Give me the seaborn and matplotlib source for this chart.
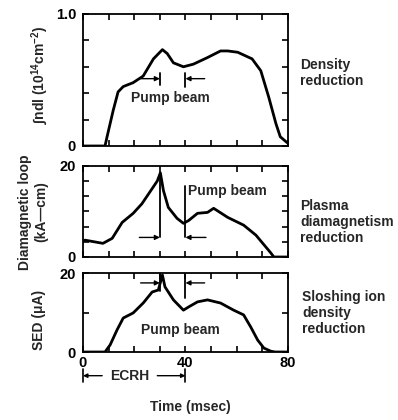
import numpy as np
import pandas as pd
import matplotlib
matplotlib.use("Agg")
import matplotlib.pyplot as plt
import seaborn as sns
from matplotlib.transforms import blended_transform_factory

# ---------------- data ----------------
t_density = [0, 8.6, 9.4, 11.8, 13.7, 15.7, 19.6, 23.5, 27.5, 31, 32.9, 35.3, 39.2,
             43.1, 48.6, 53.7, 56.5, 60.4, 66, 69.4, 72.5, 75.3, 77, 80]
density = [0, 0, 0.07, 0.27, 0.41, 0.45, 0.48, 0.53, 0.66, 0.73, 0.70, 0.63, 0.60,
           0.62, 0.67, 0.72, 0.72, 0.71, 0.66, 0.57, 0.37, 0.17, 0.07, 0.02]

t_diamag = [0, 0.8, 7.8, 11.4, 15.3, 19.6, 23, 29, 30.2, 31.4, 33.3, 36.7, 39.2,
            41.2, 44.7, 48.6, 51, 56.5, 62.7, 67.5, 73.3, 74.5, 80]
diamag = [3.5, 3.7, 3.0, 4.1, 7.6, 9.6, 11.7, 16.7, 18.5, 14.6, 10.9, 8.5, 7.4,
          8.0, 9.6, 9.8, 10.7, 8.7, 7.0, 4.8, 0.9, 0, 0]

t_sed = [0, 8.6, 10.6, 13.3, 15.7, 19.6, 23.5, 27, 29.4, 31, 32, 35.3, 39.2,
         41.2, 44.7, 48.6, 53.7, 58.8, 62.7, 65.5, 68.2, 70.6, 73.3, 75, 80]
sed = [0, 0, 1.8, 5.6, 8.6, 9.9, 12.4, 15.2, 15.7, 19.5, 16.5, 13.2, 10.6,
       11.4, 12.7, 13.2, 12.4, 10.6, 9.4, 6.3, 3.0, 1.0, 0.2, 0, 0]

pump_beam = [30, 40]      # msec
ecrh = [0, 40]            # msec
x_ticklabels = ["0", "40", "80"]

# ---------------- style ----------------
sns.set_theme(style="ticks")
plt.rcParams['font.family'] = ['Liberation Sans', 'DejaVu Sans']
plt.rcParams['font.weight'] = 'bold'
plt.rcParams['mathtext.fontset'] = 'custom'
plt.rcParams['mathtext.rm'] = 'Liberation Sans:bold'
plt.rcParams['mathtext.bf'] = 'Liberation Sans:bold'
plt.rcParams['mathtext.it'] = 'Liberation Sans:bold:italic'
plt.rcParams['mathtext.default'] = 'bf'

FS = 10
fig = plt.figure(figsize=(3.98, 4.2), dpi=100)
L, W = 0.2085, 0.515
ax1 = fig.add_axes([L, 0.6524, W, 0.3143])
ax2 = fig.add_axes([L, 0.3881, W, 0.2167])
ax3 = fig.add_axes([L, 0.1619, W, 0.188])

def style(ax, ymax, nyt):
    ax.set_xlim(0, 80)
    ax.set_ylim(0, ymax)
    ax.set_xticks(np.arange(0, 81, 10))
    ax.set_yticks(np.linspace(0, ymax, nyt))
    ax.tick_params(direction='in', top=True, right=True, length=4.5, width=1.2,
                   colors='black', labelsize=10.5, pad=5)
    for s in ax.spines.values():
        s.set_visible(True)
        s.set_linewidth(1.3)
        s.set_color('black')
    ax.set_xlabel('')
    ax.set_ylabel('')

lw = 2.0
sns.lineplot(x=t_density, y=density, ax=ax1, color='black', lw=lw, sort=False)
sns.lineplot(x=t_diamag, y=diamag, ax=ax2, color='black', lw=lw, sort=False)
sns.lineplot(x=t_sed, y=sed, ax=ax3, color='black', lw=lw, sort=False)

style(ax1, 1.0, 6)
style(ax2, 20, 7)
style(ax3, 20, 3)

ax1.set_yticklabels(['0', '', '', '', '', '1.0'])
ax2.set_yticklabels(['0', '', '', '', '', '', '20'])
ax3.set_yticklabels(['0', '', '20'])
for ax in (ax1, ax2):
    ax.set_xticklabels([])
ax3.set_xticklabels(['0', '', '', '', '40', '', '', '', '80'])
ax3.tick_params(axis='x', pad=3)
for ax in (ax1, ax2, ax3):
    for lab in ax.get_xticklabels() + ax.get_yticklabels():
        lab.set_fontweight('bold')

arrow_kw = dict(arrowstyle='-|>', lw=1.0, color='black', mutation_scale=7,
                shrinkA=0, shrinkB=0)

def pump_marks(ax, y_arrow, bar0, bar1, span):
    p0, p1 = pump_beam
    ax.plot([p0, p0], bar0, color='black', lw=1.3)
    ax.plot([p1, p1], bar1, color='black', lw=1.3)
    ax.annotate('', xy=(p0, y_arrow), xytext=(p0 - span, y_arrow), arrowprops=arrow_kw)
    ax.annotate('', xy=(p1, y_arrow), xytext=(p1 + span, y_arrow), arrowprops=arrow_kw)

pump_marks(ax1, 0.51, (0.46, 0.55), (0.45, 0.55), 7.5)
pump_marks(ax2, 4.3, (4.3, 18.5), (4.3, 15.5), 8.0)
pump_marks(ax3, 17.5, (15.5, 20), (13.7, 20), 7.5)

ax1.text(18.8, 0.36, 'Pump beam', fontsize=FS, fontweight='bold', va='center', ha='left')
ax2.text(40.8, 14.6, 'Pump beam', fontsize=FS, fontweight='bold', va='center', ha='left')
ax3.text(38, 5.6, 'Pump beam', fontsize=FS, fontweight='bold', va='center', ha='center')

# ECRH span under the bottom axis
tr = blended_transform_factory(ax3.transData, ax3.transAxes)
e0, e1 = ecrh
ye = -0.30
for xe in (e0, e1):
    ax3.plot([xe, xe], [ye - 0.08, ye + 0.08], transform=tr, color='black', lw=1.2, clip_on=False)
ax3.annotate('', xy=(e0, ye), xytext=(e0 + 7.5, ye), xycoords=tr, textcoords=tr,
             arrowprops=dict(arrowstyle='-|>', lw=1.0, color='black', mutation_scale=6,
                             shrinkA=0, shrinkB=0))
ax3.annotate('', xy=(e1, ye), xytext=(e1 - 11, ye), xycoords=tr, textcoords=tr,
             arrowprops=dict(arrowstyle='-|>', lw=1.0, color='black', mutation_scale=6,
                             shrinkA=0, shrinkB=0))
ax3.text(18.3, ye, 'ECRH', transform=tr, fontsize=FS, fontweight='bold',
         ha='center', va='center', clip_on=False)

def fx(px):
    return px / 398.0

def fy(py):
    return 1 - py / 420.0

fig.text(fx(190), fy(407), 'Time (msec)', fontsize=FS, fontweight='bold', ha='center', va='center')

fig.text(fx(40), fy(75), r'$\int$ndl (10$^{14}$cm$^{-2}$)', fontsize=FS, rotation=90,
         ha='center', va='center', fontweight='bold')
fig.text(fx(33), fy(212), 'Diamagnetic loop\n(kA\u2014cm)', fontsize=FS, rotation=90,
         ha='center', va='center', fontweight='bold', multialignment='center',
         linespacing=1.15)
fig.text(fx(39), fy(320), 'SED (\u03bcA)', fontsize=FS, rotation=90,
         ha='center', va='center', fontweight='bold')

fig.text(fx(300), fy(73), 'Density\nreduction', fontsize=FS, fontweight='bold',
         ha='left', va='center', linespacing=1.2)
fig.text(fx(300), fy(222), 'Plasma\ndiamagnetism\nreduction', fontsize=FS, fontweight='bold',
         ha='left', va='center', linespacing=1.2)
fig.text(fx(302), fy(313), 'Sloshing ion\ndensity\nreduction', fontsize=FS, fontweight='bold',
         ha='left', va='center', linespacing=1.2)

fig.savefig('out.png', dpi=100, facecolor='white')
